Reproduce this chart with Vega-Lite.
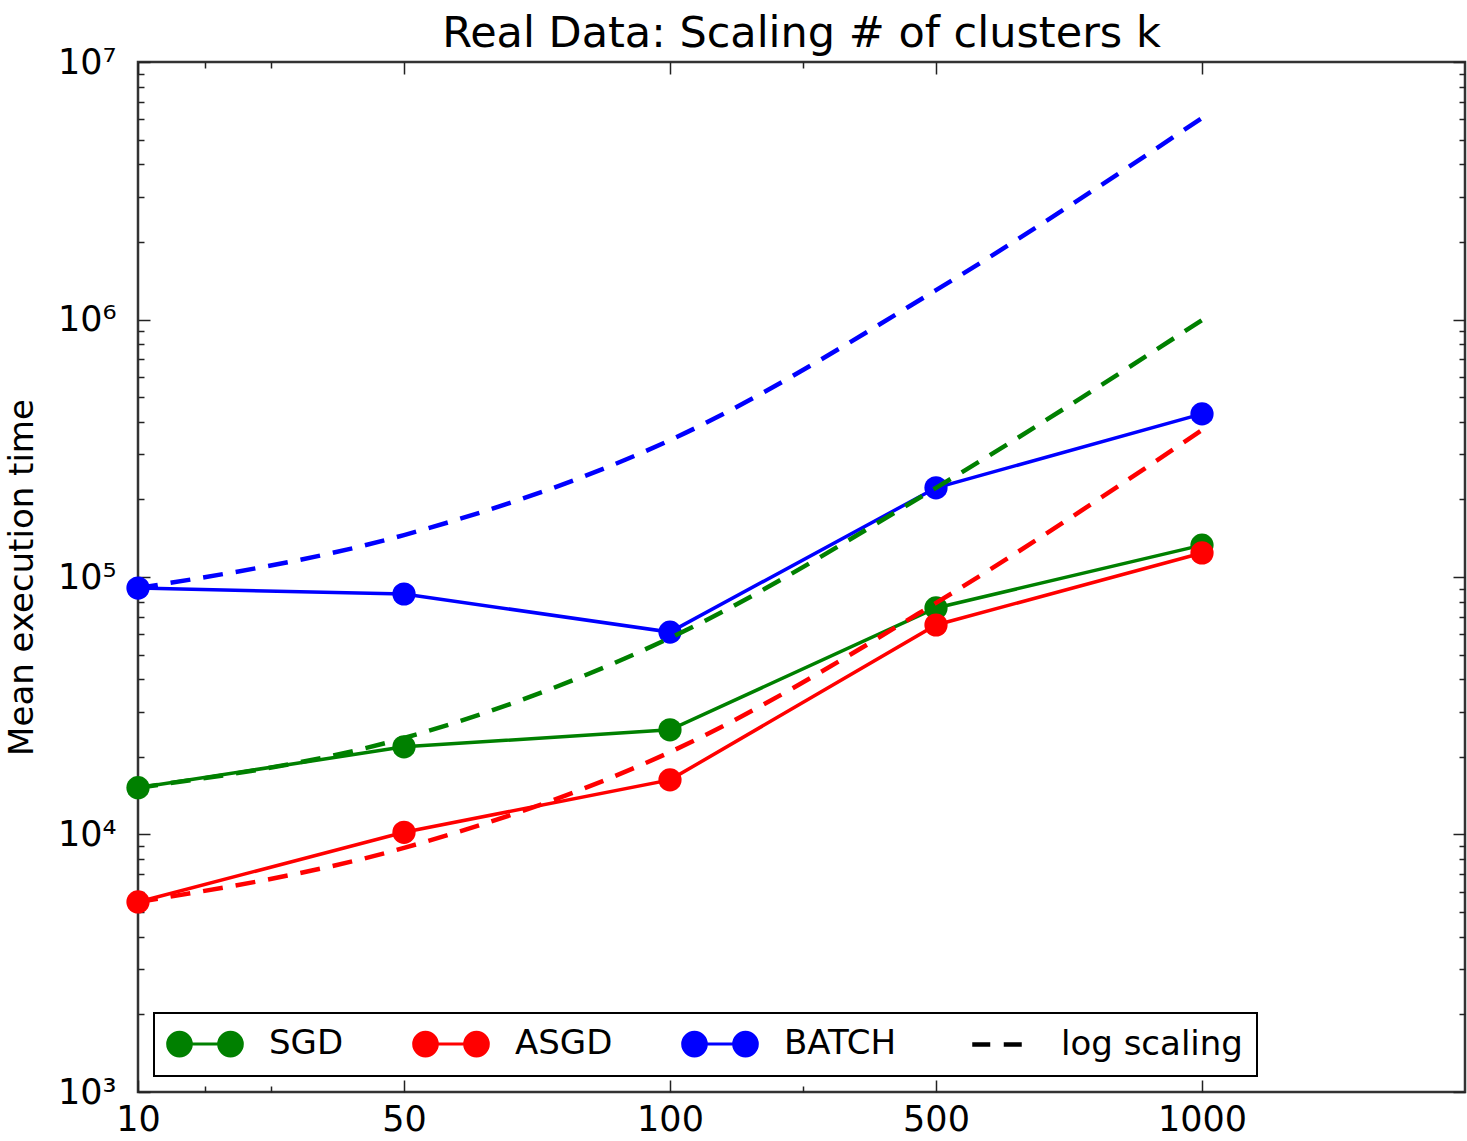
{
  "$schema": "https://vega.github.io/schema/vega-lite/v6.json",
  "width": 1327,
  "height": 1030,
  "autosize": {"type": "none"},
  "padding": {"left": 138, "top": 62, "right": 2, "bottom": 49},
  "background": "white",
  "title": {
    "text": "Real Data: Scaling # of clusters k",
    "font": "DejaVu Sans",
    "fontSize": 43,
    "fontWeight": "normal",
    "color": "black",
    "anchor": "middle",
    "offset": -11
  },
  "data": {
    "values": [
      {"method": "SGD", "k": 10, "time": 15200, "logScaling": 15200},
      {"method": "SGD", "k": 50, "time": 21900, "logScaling": 23700},
      {"method": "SGD", "k": 100, "time": 25500, "logScaling": 58000},
      {"method": "SGD", "k": 500, "time": 75800, "logScaling": 222000},
      {"method": "SGD", "k": 1000, "time": 133000, "logScaling": 995000},
      {"method": "ASGD", "k": 10, "time": 5470, "logScaling": 5470},
      {"method": "ASGD", "k": 50, "time": 10200, "logScaling": 8870},
      {"method": "ASGD", "k": 100, "time": 16300, "logScaling": 20900},
      {"method": "ASGD", "k": 500, "time": 65100, "logScaling": 79300},
      {"method": "ASGD", "k": 1000, "time": 124000, "logScaling": 372000},
      {"method": "BATCH", "k": 10, "time": 90600, "logScaling": 90600},
      {"method": "BATCH", "k": 50, "time": 85900, "logScaling": 145500},
      {"method": "BATCH", "k": 100, "time": 61100, "logScaling": 340000},
      {"method": "BATCH", "k": 500, "time": 222000, "logScaling": 1300000},
      {"method": "BATCH", "k": 1000, "time": 430000, "logScaling": 6060000}
    ]
  },
  "encoding": {
    "x": {
      "field": "k",
      "type": "quantitative",
      "scale": {
        "domain": [10, 50, 100, 500, 1000, 2000],
        "range": [0, 266, 532, 798, 1064, 1327],
        "nice": false,
        "zero": false
      }
    },
    "color": {
      "field": "method",
      "type": "nominal",
      "scale": {
        "domain": ["SGD", "ASGD", "BATCH", "log scaling"],
        "range": ["#008000", "#ff0000", "#0000ff", "#000000"]
      },
      "legend": {
        "orient": "none",
        "legendX": 16,
        "legendY": 951,
        "direction": "horizontal",
        "columns": 4,
        "title": null,
        "padding": 14,
        "strokeColor": "black",
        "fillColor": "white",
        "symbolSize": 5625,
        "symbolStrokeWidth": 3,
        "symbolOffset": 20,
        "labelFont": "DejaVu Sans",
        "labelFontSize": 34,
        "labelColor": "black",
        "labelOffset": 47,
        "labelLimit": 400,
        "columnPadding": 63,
        "rowPadding": 0,
        "encode": {
          "legend": {"update": {"strokeWidth": {"value": 2}}},
          "symbols": {
            "update": {
              "shape": {"signal": "datum.value === 'log scaling' ? 'M-0.66,0L-0.18,0M0.18,0L0.66,0' : 'M-0.68,0L0.68,0M-0.365,0A0.315,0.315,0,1,1,-0.995,0A0.315,0.315,0,1,1,-0.365,0ZM0.995,0A0.315,0.315,0,1,1,0.365,0A0.315,0.315,0,1,1,0.995,0Z'"},
              "fill": {"signal": "datum.value === 'log scaling' ? 'transparent' : scale('color', datum.value)"},
              "stroke": {"signal": "scale('color', datum.value)"},
              "strokeWidth": {"signal": "datum.value === 'log scaling' ? 4.5 : 3"},
              "opacity": {"value": 1}
            }
          }
        }
      }
    }
  },
  "resolve": {"axis": {"x": "independent", "y": "independent"}},
  "layer": [
    {
      "mark": {"type": "line", "strokeWidth": 3.5},
      "encoding": {
        "x": {
          "field": "k",
          "type": "quantitative",
          "axis": {
            "orient": "bottom",
            "title": null,
            "values": [10, 20, 30, 50, 100, 300, 500, 1000],
            "format": "d",
            "labelExpr": "(datum.value === 10 || datum.value === 50 || datum.value === 100 || datum.value === 500 || datum.value === 1000) ? datum.label : ''",
            "labelPadding": 22,
            "tickDash": {"condition": {"test": "datum.value === 10 || datum.value === 50 || datum.value === 100 || datum.value === 500 || datum.value === 1000", "value": [30, 1]}, "value": [6, 40]}
          }
        },
        "y": {
          "field": "time",
          "type": "quantitative",
          "scale": {"type": "log", "domain": [1000, 10000000], "nice": false},
          "axis": {
            "orient": "left",
            "title": "Mean execution time",
            "titlePadding": 18,
            "values": [1000, 2000, 3000, 4000, 5000, 6000, 7000, 8000, 9000, 10000, 20000, 30000, 40000, 50000, 60000, 70000, 80000, 90000, 100000, 200000, 300000, 400000, 500000, 600000, 700000, 800000, 900000, 1000000, 2000000, 3000000, 4000000, 5000000, 6000000, 7000000, 8000000, 9000000, 10000000],
            "labelExpr": "datum.value === 1000 ? '10³' : datum.value === 10000 ? '10⁴' : datum.value === 100000 ? '10⁵' : datum.value === 1000000 ? '10⁶' : datum.value === 10000000 ? '10⁷' : ''",
            "labelPadding": 34,
            "tickDash": {"condition": {"test": "datum.value === 1000 || datum.value === 10000 || datum.value === 100000 || datum.value === 1000000 || datum.value === 10000000", "value": [30, 1]}, "value": [6, 40]}
          }
        }
      }
    },
    {
      "mark": {"type": "point", "filled": true, "size": 540, "opacity": 1},
      "encoding": {
        "x": {
          "field": "k",
          "type": "quantitative",
          "axis": {
            "orient": "top",
            "title": null,
            "labels": false,
            "values": [10, 20, 30, 50, 100, 300, 500, 1000],
            "tickDash": {"condition": {"test": "datum.value === 10 || datum.value === 50 || datum.value === 100 || datum.value === 500 || datum.value === 1000", "value": [30, 1]}, "value": [6, 40]}
          }
        },
        "y": {
          "field": "time",
          "type": "quantitative",
          "axis": {
            "orient": "right",
            "title": null,
            "labels": false,
            "values": [1000, 2000, 3000, 4000, 5000, 6000, 7000, 8000, 9000, 10000, 20000, 30000, 40000, 50000, 60000, 70000, 80000, 90000, 100000, 200000, 300000, 400000, 500000, 600000, 700000, 800000, 900000, 1000000, 2000000, 3000000, 4000000, 5000000, 6000000, 7000000, 8000000, 9000000, 10000000],
            "tickDash": {"condition": {"test": "datum.value === 1000 || datum.value === 10000 || datum.value === 100000 || datum.value === 1000000 || datum.value === 10000000", "value": [30, 1]}, "value": [6, 40]}
          }
        }
      }
    },
    {
      "mark": {"type": "line", "strokeWidth": 4.5, "strokeDash": [20, 13], "interpolate": "monotone"},
      "encoding": {
        "x": {"field": "k", "type": "quantitative", "axis": null},
        "y": {"field": "logScaling", "type": "quantitative", "axis": null}
      }
    }
  ],
  "config": {
    "view": {"stroke": "#333333", "strokeWidth": 2.5},
    "axis": {
      "labelFont": "DejaVu Sans",
      "labelFontSize": 35,
      "labelColor": "black",
      "titleFont": "DejaVu Sans",
      "titleFontSize": 34,
      "titleFontWeight": "normal",
      "titleColor": "black",
      "domain": false,
      "grid": false,
      "tickColor": "#222222",
      "tickWidth": 1.5,
      "tickSize": -12,
      "labelOverlap": false,
      "labelFlush": false
    }
  }
}
